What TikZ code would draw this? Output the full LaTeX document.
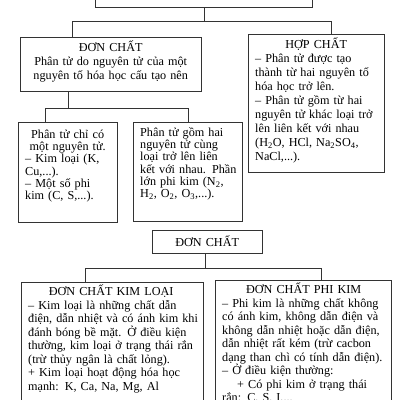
\documentclass[tikz,border=0pt]{standalone}
\usepackage{fontspec}
\setmainfont{Liberation Serif}
\setlength{\lineskiplimit}{-100pt}
\newcommand\Jl[1]{\makebox[\linewidth][s]{#1}\par}
\newcommand\Cl[1]{\makebox[\linewidth][c]{#1}\par}
\newcommand\Ll[1]{#1\par}
\newcommand\Il[1]{\hspace*{15pt}\makebox[\dimexpr\linewidth-15pt\relax][s]{#1}\par}
\begin{document}
\begin{tikzpicture}[x=1pt,y=-1pt,
  box/.style={draw=black!80, line width=0.8pt, anchor=north west, inner sep=0pt, outer sep=0pt},
  txt/.style={anchor=base west, inner sep=0pt, align=left, text=black},
  tA/.style={txt, font=\fontsize{12.2}{14}\selectfont},
  tC/.style={txt, font=\fontsize{12.2}{12.2}\selectfont},
  tK/.style={txt, font=\fontsize{12.2}{13.5}\selectfont},
  conn/.style={draw=black!80, line width=0.8pt}]
\useasboundingbox (0,0) rectangle (400,400);
\fill[white] (0,0) rectangle (400,400);
\clip (0,0) rectangle (400,400);

% boxes
\node[box, minimum width=217pt, minimum height=20pt] (T) at (95,-13) {};
\node[box, minimum width=181pt, minimum height=54pt] (A) at (20,37) {};
\node[box, minimum width=136pt, minimum height=138pt] (B) at (248,34) {};
\node[box, minimum width=99pt, minimum height=100pt] (C) at (18,122) {};
\node[box, minimum width=109pt, minimum height=99pt] (D) at (133,122) {};
\node[box, minimum width=110pt, minimum height=23pt] (E) at (152,230) {};
\node[box, minimum width=182pt, minimum height=140pt] (K) at (21,282) {};
\node[box, minimum width=176pt, minimum height=140pt] (P) at (215,280) {};

% connectors
\coordinate (j1) at (204,21);
\coordinate (h1L) at (72,21);
\coordinate (h1R) at (331,21);
\draw[conn] (j1 |- T.south) -- (j1);
\draw[conn] (h1L) -- (h1R);
\draw[conn] (h1L) -- (h1L |- A.north);
\draw[conn] (h1R) -- (h1R |- B.north);

\coordinate (j2) at (68,108);
\coordinate (h2L) at (45,108);
\coordinate (h2R) at (188,108);
\draw[conn] (j2 |- A.south) -- (j2);
\draw[conn] (h2L) -- (h2R);
\draw[conn] (h2L) -- (h2L |- C.north);
\draw[conn] (h2R) -- (h2R |- D.north);

\coordinate (j3) at (205,268);
\coordinate (h3L) at (85,268);
\coordinate (h3R) at (321,268);
\draw[conn] (j3 |- E.south) -- (j3);
\draw[conn] (h3L) -- (h3R);
\draw[conn] (h3L) -- (h3L |- K.north);
\draw[conn] (h3R) -- (h3R |- P.north);

% texts
\node[tA, text width=170pt] (At) at (25.5,51.5) {%
\Cl{ĐƠN CHẤT}
\Cl{Phân tử do nguyên tử của một}
\Cl{nguyên tố hóa học cấu tạo nên}};

\node[tA, text width=122pt] (Bt) at (255,48.5) {%
\Cl{HỢP CHẤT}
\Jl{– Phân tử được tạo}
\Jl{thành từ hai nguyên tố}
\Ll{hóa học trở lên.}
\Jl{– Phân tử gồm từ hai}
\Jl{nguyên tử khác loại trở}
\Jl{lên liên kết với nhau}
\Jl{(H\textsubscript{2}O, HCl, Na\textsubscript{2}SO\textsubscript{4},}
\Ll{NaCl,...).}};

\node[tC, text width=85pt] (Ct) at (25,138.5) {%
\Cl{Phân tử chỉ có}
\Cl{một nguyên tử.}
\Jl{– Kim loại (K,}
\Ll{Cu,...).}
\Jl{– Một số phi}
\Ll{kim (C, S,...).}};

\node[tC, text width=97pt] (Dt) at (140,136.5) {%
\Jl{Phân tử gồm hai}
\Jl{nguyên tử cùng}
\Jl{loại trở lên liên}
\Jl{kết với nhau. Phần}
\Jl{lớn phi kim (N\textsubscript{2},}
\Ll{H\textsubscript{2}, O\textsubscript{2}, O\textsubscript{3},...).}};

\node[tA, text width=110pt] (Et) at (152,246) {\Cl{ĐƠN CHẤT}};

\node[tK, text width=166pt] (Kt) at (28,295.5) {%
\Cl{ĐƠN CHẤT KIM LOẠI}
\Jl{– Kim loại là những chất dẫn}
\Jl{điện, dẫn nhiệt và có ánh kim khi}
\Jl{đánh bóng bề mặt. Ở điều kiện}
\Jl{thường, kim loại ở trạng thái rắn}
\Ll{(trừ thủy ngân là chất lỏng).}
\Jl{+ Kim loại hoạt động hóa học}
\Ll{mạnh: K, Ca, Na, Mg, Al}};

\node[tK, text width=163pt] (Pt) at (222,293.5) {%
\Cl{ĐƠN CHẤT PHI KIM}
\Jl{– Phi kim là những chất không}
\Jl{có ánh kim, không dẫn điện và}
\Jl{không dẫn nhiệt hoặc dẫn điện,}
\Jl{dẫn nhiệt rất kém (trừ cacbon}
\Ll{dạng than chì có tính dẫn điện).}
\Ll{– Ở điều kiện thường:}
\Il{+ Có phi kim ở trạng thái}
\Ll{rắn: C, S, I,...}};
\end{tikzpicture}
\end{document}
